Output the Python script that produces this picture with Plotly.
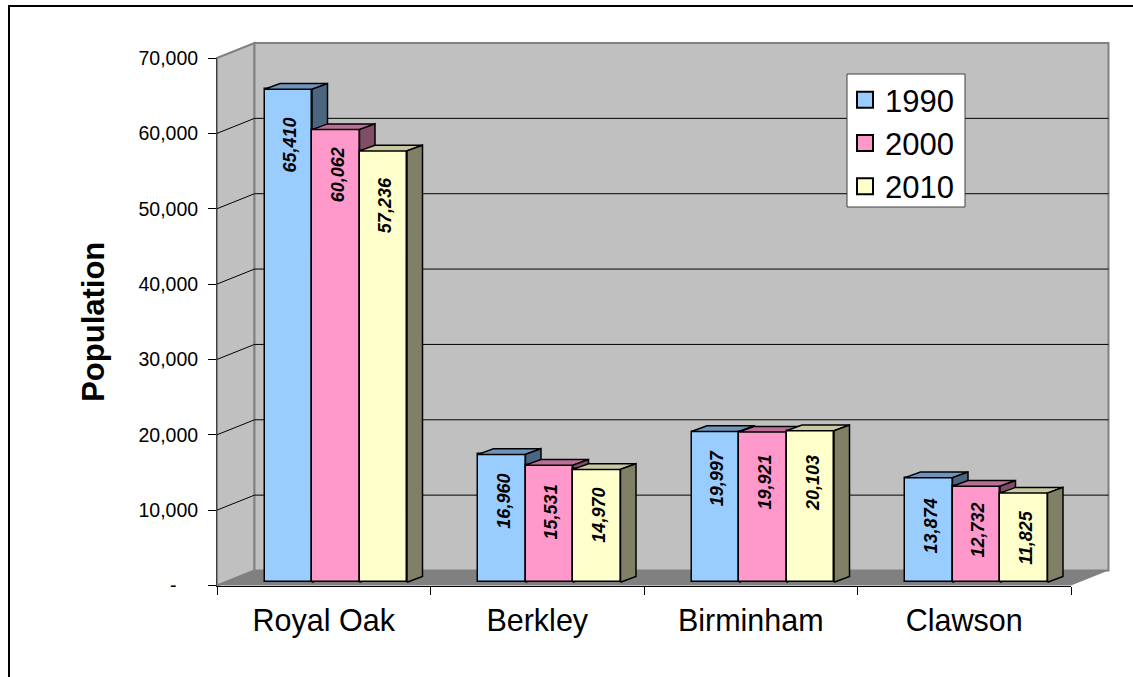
import plotly.graph_objects as go

# Chart data
categories = ["Royal Oak", "Berkley", "Birminham", "Clawson"]
series_names = ["1990", "2000", "2010"]
pop_1990 = [65410, 16960, 19997, 13874]
pop_2000 = [60062, 15531, 19921, 12732]
pop_2010 = [57236, 14970, 20103, 11825]
y_ticks = [0, 10000, 20000, 30000, 40000, 50000, 60000, 70000]

# Face colours per series: front, top, side
front_colors = ["#99CCFF", "#FF99CC", "#FFFFCC"]
top_colors = ["#6F94BC", "#BC6F96", "#C8C8A0"]
side_colors = ["#4D6680", "#804D66", "#808066"]

# Pixel distance from each bar top down to the centre of its value label
label_drops = [
    [56, 46.5, 46.5, 48],
    [45, 47, 49.7, 44],
    [54, 45.5, 52, 44],
]

W, H = 1133, 677
X0, X1 = 217, 1071          # front plane, horizontal pixel extent
Y0, Y1 = 585.5, 58          # front plane, vertical pixel extent
Y_MAX = 70000
N = len(categories)
px_x = (X1 - X0) / N        # pixels per category
px_y = (Y0 - Y1) / Y_MAX    # pixels per unit of population
WALL_PX_X, WALL_PX_Y = 37.5, 15
PAD = 4                     # room round the box so edge lines are not cut off

# Chart box depth and bar depth, expressed in axis units
wall_dx, wall_dy = WALL_PX_X / px_x, WALL_PX_Y / px_y
bar_dx, bar_dy = 15.5 / px_x, 5.7 / px_y
bar_shift_y = 3.3 / px_y
bar_w = 47.5 / px_x
bar_start = 47.5 / px_x

FONT = "Liberation Sans"
fig = go.Figure()


def polygon(xs, ys, color, line_color=None, width=0, axes=("x", "y")):
    fig.add_trace(go.Scatter(
        x=xs, y=ys, mode="lines", fill="toself", fillcolor=color,
        line=dict(color=line_color or color, width=width),
        xaxis=axes[0], yaxis=axes[1], showlegend=False,
        hoverinfo="skip",
    ))


# Side wall, back wall and floor of the chart box
polygon([0, wall_dx, wall_dx, 0, 0], [0, wall_dy, Y_MAX + wall_dy, Y_MAX, 0],
        "#C0C0C0", "#808080", 2)
polygon([wall_dx, N + wall_dx, N + wall_dx, wall_dx, wall_dx],
        [wall_dy, wall_dy, Y_MAX + wall_dy, Y_MAX + wall_dy, wall_dy],
        "#C0C0C0", "#808080", 2)
polygon([0, wall_dx, N + wall_dx, N, 0], [0, wall_dy, wall_dy, 0, 0], "#808080")

# Gridlines run across the side wall and along the back wall
grid_x, grid_y = [], []
for t in y_ticks[1:-1]:
    grid_x += [0, wall_dx, N + wall_dx, None]
    grid_y += [t, t + wall_dy, t + wall_dy, None]
fig.add_trace(go.Scatter(
    x=grid_x, y=grid_y, mode="lines", line=dict(color="#000000", width=1),
    showlegend=False, hoverinfo="skip",
))

# One overlaid axis pair per series, so later series paint over earlier ones
all_values = [pop_1990, pop_2000, pop_2010]
annotations = []
for s, values in enumerate(all_values):
    ax = (f"x{s + 2}", f"y{s + 2}")
    centers = [i + bar_start + bar_w * (s + 0.5) for i in range(N)]
    fig.add_trace(go.Bar(
        x=centers, y=values, base=[bar_shift_y] * N, width=bar_w,
        marker=dict(color=front_colors[s], line=dict(color="#000000", width=1.5)),
        xaxis=ax[0], yaxis=ax[1], showlegend=False,
        hovertemplate="%{y:,}<extra>" + series_names[s] + "</extra>",
    ))
    top_x, top_y, side_x, side_y = [], [], [], []
    for c, v in zip(centers, values):
        l, r = c - bar_w / 2, c + bar_w / 2
        b, t = bar_shift_y, bar_shift_y + v
        top_x += [l, l + bar_dx, r + bar_dx, r, l, None]
        top_y += [t, t + bar_dy, t + bar_dy, t, t, None]
        side_x += [r, r + bar_dx, r + bar_dx, r, r, None]
        side_y += [b, b + bar_dy, t + bar_dy, t, b, None]
    polygon(top_x, top_y, top_colors[s], "#000000", 1.5, ax)
    polygon(side_x, side_y, side_colors[s], "#000000", 1.5, ax)
    for c, v, drop in zip(centers, values, label_drops[s]):
        annotations.append(dict(
            x=c, y=v + bar_shift_y, xref=ax[0], yref=ax[1],
            text=f"{v:,}", textangle=-90, showarrow=False,
            xshift=2, yshift=-drop,
            font=dict(family=FONT, size=18, color="#000000", weight="bold", style="italic"),
        ))

# Legend entries, which also keep the visible front-plane axes on the page
for s, name in enumerate(series_names):
    fig.add_trace(go.Scatter(
        x=[None], y=[None], mode="markers", name=name, legendgroup=name,
        xaxis="x5", yaxis="y5",
        marker=dict(symbol="square", size=16, color=front_colors[s],
                    line=dict(color="#000000", width=2)),
    ))

layout = dict(
    template="none",
    width=W, height=H, autosize=False,
    margin=dict(l=0, r=0, t=0, b=0, pad=0),
    paper_bgcolor="#FFFFFF", plot_bgcolor="rgba(0,0,0,0)",
    font=dict(family=FONT, color="#000000"),
    # Hidden axes that hold the box and bars, sized to include the box depth
    xaxis=dict(
        domain=[(X0 - PAD) / W, (X1 + WALL_PX_X + PAD) / W],
        range=[-PAD / px_x, N + wall_dx + PAD / px_x], visible=False,
    ),
    yaxis=dict(
        domain=[1 - (Y0 + PAD) / H, 1 - (Y1 - WALL_PX_Y - PAD) / H],
        range=[-PAD / px_y, Y_MAX + wall_dy + PAD / px_y], visible=False,
    ),
    # Visible axes along the front plane
    xaxis5=dict(
        anchor="y5", domain=[X0 / W, X1 / W], range=[0, N], showgrid=False, zeroline=False,
        automargin=False,
        tickmode="array", tickvals=[i + 0.5 for i in range(N)], ticktext=categories,
        ticks="", tickfont=dict(family=FONT, size=30.5), ticklabelstandoff=8,
        showline=True, linecolor="#000000", linewidth=1,
        minor=dict(tickmode="array", tickvals=list(range(N + 1)), ticks="outside",
                   ticklen=8, tickcolor="#000000", tickwidth=1),
    ),
    yaxis5=dict(
        anchor="x5", domain=[1 - Y0 / H, 1 - Y1 / H], range=[0, Y_MAX],
        showgrid=False, zeroline=False, automargin=False,
        tickmode="array", tickvals=y_ticks,
        ticktext=[f"{t:,}" if t else "-\u00a0\u00a0\u00a0\u00a0" for t in y_ticks],
        ticks="outside", ticklen=8, tickcolor="#000000", tickwidth=1,
        tickfont=dict(family=FONT, size=19.5), ticklabelstandoff=6,
        showline=True, linecolor="#404040", linewidth=1,
        title=dict(text="<b>Population</b>", font=dict(family=FONT, size=31), standoff=24),
    ),
    legend=dict(
        x=845 / W, y=1 - 73 / H, xanchor="left", yanchor="top",
        bgcolor="rgba(0,0,0,0)", borderwidth=0,
        font=dict(family=FONT, size=31), tracegroupgap=0, itemclick=False,
        itemdoubleclick=False,
    ),
    bargap=0,
    showlegend=True,
    annotations=annotations,
    shapes=[
        # Chart frame, open past the right and bottom edges of the page
        dict(type="rect", xref="paper", yref="paper",
             x0=9 / W, x1=1.05, y0=-0.05, y1=1 - 6 / H,
             line=dict(color="#000000", width=2), layer="below"),
        # Legend box
        dict(type="rect", xref="paper", yref="paper",
             x0=847 / W, x1=965 / W, y0=1 - 207 / H, y1=1 - 74 / H,
             fillcolor="#FFFFFF", line=dict(color="#404040", width=1), layer="above"),
    ],
)
for s in range(len(series_names)):
    layout[f"xaxis{s + 2}"] = dict(overlaying="x", range=layout["xaxis"]["range"], visible=False)
    layout[f"yaxis{s + 2}"] = dict(overlaying="y", range=layout["yaxis"]["range"], visible=False)

fig.update_layout(**layout)
fig.write_html("out.html")
